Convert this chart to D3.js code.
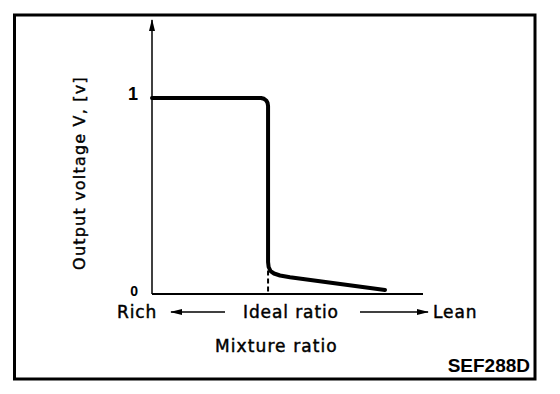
<!DOCTYPE html>
<html>
<head>
<meta charset="utf-8">
<script src="https://cdn.jsdelivr.net/npm/d3@7"></script>
<style>
    body { margin: 0; background: #fff; }
    svg { display: block; }
    text { fill: #000; }
</style>
</head>
<body>
<div id="my_dataviz"></div>
<script>
// curve: mixture (lambda) vs output voltage
var mixture = [0.80, 0.9878, 0.9930, 0.9969, 0.9992, 1.0, 1.0, 1.001, 1.0043, 1.0103, 1.0206, 1.0378, 1.2015];
var voltage = [1.0, 1.0, 0.9959, 0.9872, 0.9745, 0.9592, 0.1633, 0.1378, 0.1173, 0.1046, 0.0944, 0.0852, 0.0204];

var yTicks = [0, 1];
var idealRatio = 1.0;
var xLabels = ["Rich", "Ideal ratio", "Lean"];
var xTitle = "Mixture ratio";
var yTitle = "Output voltage V, [v]";
var figCode = "SEF288D";

var width = 560
height = 394

var svg = d3.select("#my_dataviz")
    .append("svg")
    .attr("width", width)
    .attr("height", height);

// scales
var x = d3.scaleLinear()
    .domain([0.8, 1.267])
    .range([152, 423]);

var y = d3.scaleLinear()
    .domain([0, 1])
    .range([294, 98]);

// outer frame
svg.append("rect")
    .attr("x", 14.5)
    .attr("y", 15)
    .attr("width", 520.5)
    .attr("height", 364)
    .attr("fill", "none")
    .attr("stroke", "#000")
    .attr("stroke-width", 3);

// arrow markers
var defs = svg.append("defs");
defs.append("marker")
    .attr("id", "head")
    .attr("viewBox", "0 0 12 6")
    .attr("refX", 11)
    .attr("refY", 3)
    .attr("markerWidth", 12)
    .attr("markerHeight", 6)
    .attr("markerUnits", "userSpaceOnUse")
    .attr("orient", "auto")
    .append("path")
    .attr("d", "M0,0 L12,3 L0,6 Z")
    .attr("fill", "#000");

// y axis (line with arrow on top)
svg.append("line")
    .attr("x1", x(0.8))
    .attr("x2", x(0.8))
    .attr("y1", y(0))
    .attr("y2", 20)
    .attr("stroke", "#000")
    .attr("stroke-width", 1.5)
    .attr("marker-end", "url(#head)");

// x axis
svg.append("line")
    .attr("x1", x(0.8))
    .attr("x2", x(1.267))
    .attr("y1", y(0))
    .attr("y2", y(0))
    .attr("stroke", "#000")
    .attr("stroke-width", 2);

// y tick labels
svg.selectAll(".ytick")
    .data(yTicks)
    .enter()
    .append("text")
    .attr("class", "ytick")
    .attr("x", 138)
    .attr("y", d => y(d) + 2)
    .attr("text-anchor", "end")
    .style("font-family", "'Liberation Sans', Arial, sans-serif")
    .style("font-weight", "bold")
    .style("font-size", d => d == 1 ? "18px" : "14px")
    .text(d => d);

// dashed line at ideal ratio
svg.append("line")
    .attr("x1", x(idealRatio))
    .attr("x2", x(idealRatio))
    .attr("y1", y(0.12))
    .attr("y2", y(0))
    .attr("stroke", "#000")
    .attr("stroke-width", 2)
    .attr("stroke-dasharray", "5,3");

// the curve (dense points at the bends, so plain linear is enough)
var pts = mixture.map((m, i) => [m, voltage[i]]);
var line = d3.line()
    .x(d => x(d[0]))
    .y(d => y(d[1]));

svg.append("path")
    .datum(pts)
    .attr("d", line)
    .attr("fill", "none")
    .attr("stroke", "#000")
    .attr("stroke-width", 4)
    .attr("stroke-linejoin", "round")
    .attr("stroke-linecap", "round");

// bottom labels
var labelFont = "'DejaVu Sans', Verdana, sans-serif";
var labelX = [117, 243, 433];
svg.selectAll(".xlab")
    .data(xLabels)
    .enter()
    .append("text")
    .attr("class", "xlab")
    .attr("x", (d, i) => labelX[i])
    .attr("y", 318)
    .style("font-family", labelFont)
    .style("font-size", "17px")
    .style("letter-spacing", "0.9px")
    .style("stroke", "#000")
    .style("stroke-width", "0.45px")
    .text(d => d);

// rich / lean arrows
svg.append("line")
    .attr("x1", 225).attr("x2", 171)
    .attr("y1", 312).attr("y2", 312)
    .attr("stroke", "#000")
    .attr("stroke-width", 1.5)
    .attr("marker-end", "url(#head)");

svg.append("line")
    .attr("x1", 360).attr("x2", 428)
    .attr("y1", 312).attr("y2", 312)
    .attr("stroke", "#000")
    .attr("stroke-width", 1.5)
    .attr("marker-end", "url(#head)");

svg.append("text")
    .attr("x", 215)
    .attr("y", 352)
    .style("font-family", labelFont)
    .style("font-size", "17px")
    .style("letter-spacing", "1.1px")
    .style("stroke", "#000")
    .style("stroke-width", "0.45px")
    .text(xTitle);

// y title, rotated
svg.append("text")
    .attr("transform", "translate(85,173) rotate(-90)")
    .attr("text-anchor", "middle")
    .style("font-family", labelFont)
    .style("font-size", "16px")
    .style("letter-spacing", "1.2px")
    .style("stroke", "#000")
    .style("stroke-width", "0.4px")
    .text(yTitle);

// figure code
svg.append("text")
    .attr("x", 530)
    .attr("y", 372)
    .attr("text-anchor", "end")
    .style("font-family", "'Liberation Sans', Arial, sans-serif")
    .style("font-weight", "bold")
    .style("font-size", "19px")
    .text(figCode);
</script>
</body>
</html>
